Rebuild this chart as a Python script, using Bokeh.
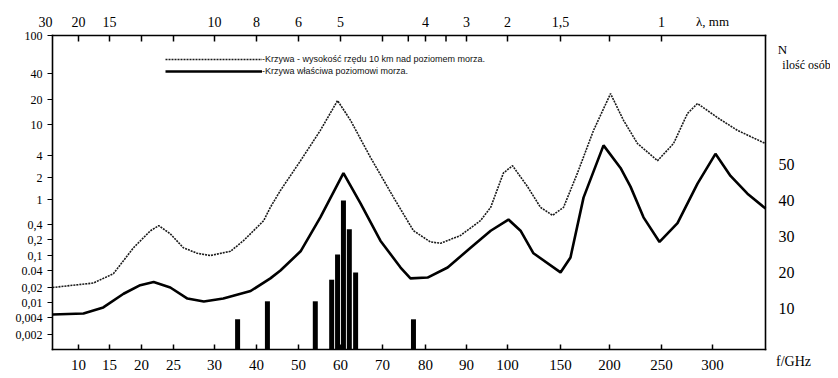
import numpy as np
from bokeh.plotting import figure
from bokeh.models import Range1d, Legend, LegendItem
from bokeh.core.properties import value
from bokeh.embed import file_html
from bokeh.resources import INLINE

# ---------------- data ----------------
# bottom axis: frequency (GHz)
freq_ticks = [10, 15, 20, 25, 30, 40, 50, 60, 70, 80, 90, 100, 150, 200, 250, 300]
freq_labels = [str(f) for f in freq_ticks]
# top axis: wavelength labels (mm) and the frequency-scale place where each is printed
lam_labels = ["20", "15", "10", "8", "6", "5", "4", "3", "2", "1,5", "1"]
lam_at_freq = [10, 15, 30, 40, 50, 60, 80, 90, 100, 150, 250]
top_tick_freq = [10, 15, 20, 25, 30, 40, 50, 60, 70, 76, 80, 85, 90, 100, 150, 200, 250]
# left axis: attenuation (dB/km)
att_ticks = [0.002, 0.004, 0.01, 0.02, 0.04, 0.1, 0.2, 0.4, 1, 2, 4, 10, 20, 40, 100]
att_labels = ["0,002", "0,004", "0,01", "0,02", "0.04", "0,1", "0,2", "0,4",
              "1", "2", "4", "10", "20", "40", "100"]
# right axis: N (number of people)
n_ticks = [10, 20, 30, 40, 50]
n_labels = [str(n) for n in n_ticks]

# curve at ~10 km altitude (dotted)
high_f = [5.8, 12.4, 15.6, 18.75, 21.4, 22.7, 24.5, 26.2, 27.9, 29.5,
          33.8, 36.9, 41.7, 43.3, 45.7, 50.5, 55.2, 59.3, 62.4, 67.1,
          72.6, 77.2, 81.2, 83.7, 88.5, 93.4, 95.9, 99.0, 104.7, 118.9,
          131.1, 142.5, 153.1, 167.3, 183.7, 201, 213.5, 226.9, 246.2, 261.8,
          275.5, 285.3, 304.9, 324.5, 352]
high_a = [0.020, 0.024, 0.035, 0.14, 0.30, 0.38, 0.26, 0.14, 0.11, 0.10,
          0.12, 0.19, 0.46, 0.75, 1.33, 3.4, 8.4, 19.4, 11.2, 3.8,
          1.06, 0.30, 0.18, 0.17, 0.24, 0.46, 0.75, 2.3, 2.9, 1.5,
          0.75, 0.56, 0.75, 2.3, 8.4, 23.4, 11.2, 5.7, 3.4, 5.7,
          13.6, 17.9, 12.1, 8.4, 5.7]
# curve at sea level (solid)
sea_f = [5.8, 10.8, 14.0, 17.2, 19.8, 21.9, 24.5, 26.7, 28.7, 32.1,
         38.6, 43.3, 45.7, 50.5, 55.2, 60.7, 64.8, 69.5, 74.2, 76.5,
         80.5, 85.4, 91.0, 95.9, 100.9, 112.3, 124.5, 150, 160.2, 173.5,
         193.9, 210.6, 220.2, 232.7, 248.1, 265.7, 285.3, 302.9, 317.7, 334.3,
         352]
sea_a = [0.0048, 0.0051, 0.0074, 0.015, 0.022, 0.025, 0.020, 0.012, 0.0105, 0.012,
         0.017, 0.029, 0.040, 0.12, 0.52, 2.3, 0.86, 0.19, 0.048, 0.029,
         0.030, 0.048, 0.14, 0.30, 0.48, 0.30, 0.11, 0.037, 0.089, 1.06,
         5.4, 2.7, 1.5, 0.52, 0.18, 0.42, 1.65, 4.2, 2.1, 1.2,
         0.72]
# bars (right axis, N)
bar_f = [35.5, 42.6, 54.0, 57.9, 59.3, 60.7, 62.1, 63.6, 77.2]
bar_n = [7, 12, 12, 18, 25, 40, 32, 20, 7]

# ---------------- the original figure's warped scales ----------------
# frame box in plot units (1 unit = 1 px); the canvas extends around it
X0, X1, Y0, Y1 = 0.0, 713.0, 0.0, 314.0
scale_f = [5.8] + freq_ticks + [352]
scale_fx = [0, 26, 57, 89, 121, 162, 204, 246, 288, 330, 373, 414, 455, 508, 557, 609, 660, 713]
scale_a = [0.00108] + att_ticks
scale_ay = [0, 15, 32, 47, 62, 79, 94, 110, 125, 150, 172, 194, 225, 250, 276, 314]
# N axis: 10 -> 41, 3.6 units per person; whole canvas spans y -27..349
N_PER_UNIT = 1 / 3.6
n_range = (10 + (-27 - 41) * N_PER_UNIT, 10 + (349 - 41) * N_PER_UNIT)
N_FLOOR = 10 + (Y0 - 41) * N_PER_UNIT


def fx(f):
    return np.interp(np.asarray(f, dtype=float), scale_f, scale_fx)


def fy(a):
    return np.interp(np.log10(np.asarray(a, dtype=float)), np.log10(scale_a), scale_ay)


SERIF = value("Liberation Serif")
W = 0.8  # half thickness of frame and tick strokes (drawn as thin filled boxes)

p = figure(width=830, height=376, output_backend="svg", toolbar_location=None,
           x_range=Range1d(-52, 778), y_range=Range1d(-27, 349),
           x_axis_location=None, y_axis_location=None,
           min_border=0, min_border_left=0, min_border_right=0,
           min_border_top=0, min_border_bottom=0)
p.extra_y_ranges = {"N": Range1d(*n_range)}
p.grid.visible = False
p.outline_line_color = None

xt = fx(freq_ticks)
tt = fx(top_tick_freq)
lam_x = fx(lam_at_freq)
yt = fy(att_ticks)


def txt(xs, ys, texts, size, align="center", **kw):
    p.text(x=xs, y=ys, text=texts, text_font=SERIF, text_font_size=value(size),
           text_align=align, text_baseline="middle", text_color="black", **kw)


def boxes(left, right, bottom, top):
    p.quad(left=left, right=right, bottom=bottom, top=top,
           fill_color="black", line_color=None)


# bars
p.vbar(x=fx(bar_f), width=5, top=bar_n, bottom=N_FLOOR, y_range_name="N",
       fill_color="black", line_color=None)

# curves
r_high = p.line(fx(high_f), fy(high_a), line_color="#1a1a1a", line_width=1.6, line_dash="2 1")
r_sea = p.line(fx(sea_f), fy(sea_a), line_color="black", line_width=2.6)

# frame box: bottom, top, left, right edges
boxes([X0 - W, X0 - W, X0 - W, X1 - W], [X1 + W, X1 + W, X0 + W, X1 + W],
      [Y0 - W, Y1 - W, Y0 - W, Y0 - W], [Y0 + W, Y1 + W, Y1 + W, Y1 + W])
# bottom ticks (inside) and labels
boxes(xt - 0.75, xt + 0.75, np.full(len(xt), Y0), np.full(len(xt), Y0 + 5))
txt(xt, [Y0 - 15] * len(xt), freq_labels, "15px")
# top ticks (inside) and wavelength labels
boxes(tt - 0.75, tt + 0.75, np.full(len(tt), Y1 - 6), np.full(len(tt), Y1))
txt(lam_x, [Y1 + 14] * len(lam_x), lam_labels, "14px")
txt([X0 - 7], [Y1 + 14], ["30"], "14px")
txt([X1 - 53], [Y1 + 14], ["λ, mm"], "13px")
# left ticks (outside) and labels
boxes(np.full(len(yt), X0 - 5), np.full(len(yt), X0), yt - 0.6, yt + 0.6)
txt([X0 - 10] * len(yt), yt, att_labels, "12px", align="right")
# right axis labels (N)
txt([X1 + 13] * len(n_ticks), n_ticks, n_labels, "16px", align="left", y_range_name="N")
txt([X1 + 17], [Y1 - 14], ["N"], "13px")
txt([X1 + 41], [Y1 - 29], ["ilość osób"], "12px")
txt([X1 + 28], [Y0 - 12], ["f/GHz"], "14px")

legend = Legend(items=[
    LegendItem(label="-Krzywa - wysokość rzędu 10 km nad poziomem morza.", renderers=[r_high]),
    LegendItem(label="-Krzywa właściwa poziomowi morza.", renderers=[r_sea]),
], location=(165, 299), glyph_width=97, glyph_height=12, label_height=12,
    label_standoff=0, spacing=0, padding=0, margin=0,
    border_line_color=None, background_fill_alpha=0,
    label_text_font="Liberation Sans", label_text_font_size="9px", label_text_color="#111111")
p.add_layout(legend, "center")

open("out.html", "w").write(file_html(p, INLINE))
